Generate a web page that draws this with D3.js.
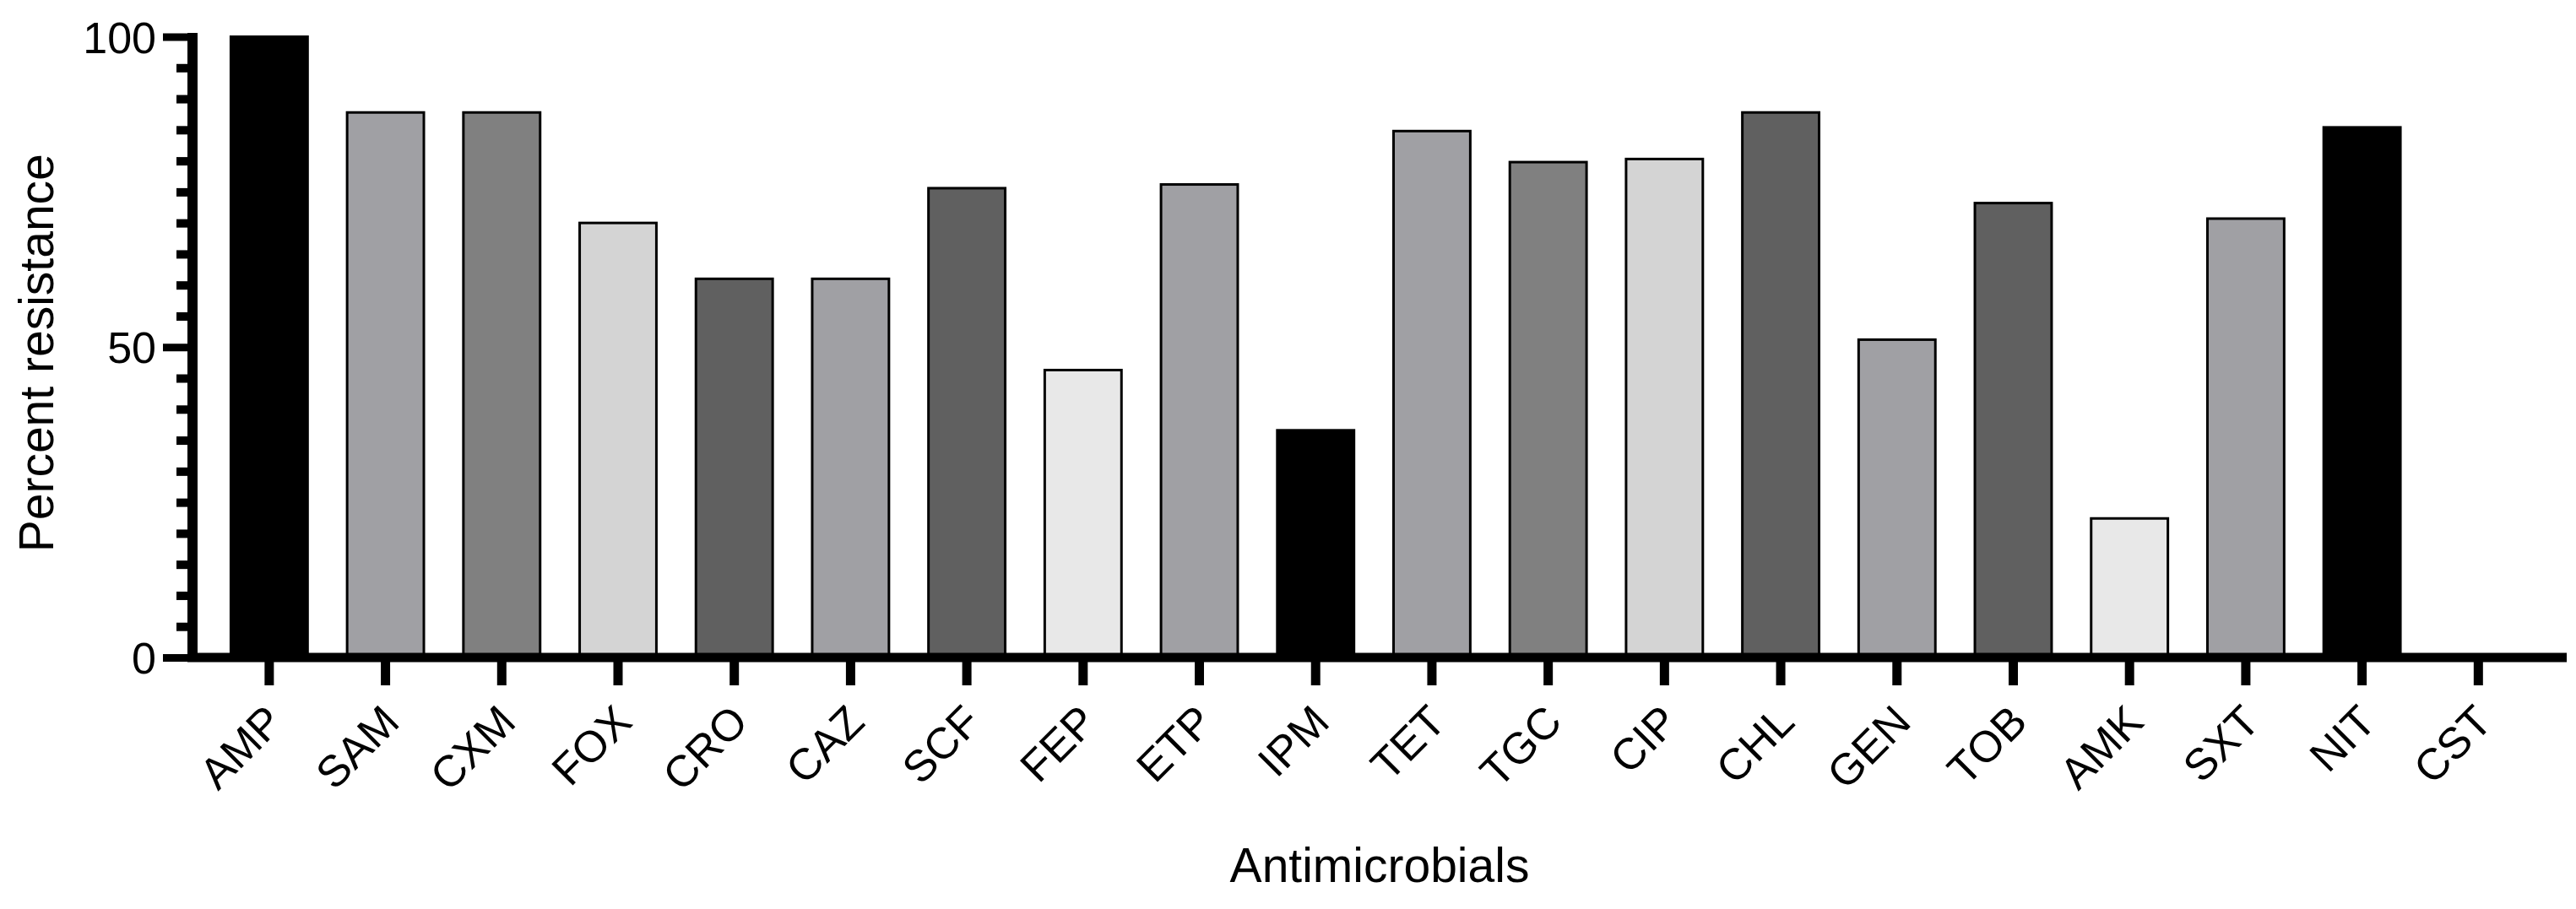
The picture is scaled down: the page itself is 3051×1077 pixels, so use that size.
<!DOCTYPE html>
<html>
<head>
<meta charset="utf-8">
<script src="https://cdn.jsdelivr.net/npm/d3@7"></script>
<style>
    body { margin: 0; background: #fff; }
    text { font-family: "Liberation Sans", Arial, sans-serif; fill: #000; }
</style>
</head>
<body>
<div id="chart"></div>
<script>
let width = 3051, height = 1077;
let plotLeft = 228, plotRight = 3040, plotTop = 43.5, plotBottom = 779;

let drugs = ['AMP', 'SAM', 'CXM', 'FOX', 'CRO', 'CAZ', 'SCF', 'FEP', 'ETP', 'IPM',
    'TET', 'TGC', 'CIP', 'CHL', 'GEN', 'TOB', 'AMK', 'SXT', 'NIT', 'CST'];
let resistance = [100, 87.8, 87.8, 70, 61, 61, 75.6, 46.3, 76.2, 36.6,
    84.8, 79.8, 80.3, 87.8, 51.2, 73.2, 22.4, 70.7, 85.4, 0];
let fills = ['#000000', '#a0a0a4', '#808080', '#d4d4d4', '#606060', '#a0a0a4', '#606060', '#e8e8e8', '#a0a0a4', '#000000',
    '#a0a0a4', '#808080', '#d4d4d4', '#606060', '#a0a0a4', '#606060', '#e8e8e8', '#a0a0a4', '#000000', '#ffffff'];
let majorTicks = [0, 50, 100];
let minorTicks = d3.range(5, 100, 5).filter(d => d % 50 !== 0);

let data = drugs.map((d, i) => ({name: d, value: resistance[i], fill: fills[i]}));

let svg = d3.select('#chart')
    .append('svg')
    .attr('width', width)
    .attr('height', height);

let x = d3.scaleBand()
    .domain(drugs)
    .range([plotLeft, plotRight])
    .paddingInner(0.34)
    .paddingOuter(0.38)
    .align(0.434);

let y = d3.scaleLinear()
    .domain([0, 100])
    .range([plotBottom, plotTop]);

// bars
svg.selectAll('.bar')
    .data(data.filter(d => d.value > 0))
    .enter()
    .append('rect')
    .attr('class', 'bar')
    .attr('x', d => x(d.name))
    .attr('y', d => y(d.value))
    .attr('width', x.bandwidth())
    .attr('height', d => y(0) - y(d.value))
    .attr('fill', d => d.fill)
    .attr('stroke', '#000')
    .attr('stroke-width', 3);

// y axis: minor ticks
svg.append('g')
    .attr('transform', `translate(${plotLeft},0)`)
    .call(d3.axisLeft(y).tickValues(minorTicks).tickSize(19).tickFormat(''))
    .call(g => g.select('.domain').remove())
    .call(g => g.selectAll('.tick line').attr('stroke', '#000').attr('stroke-width', 10));

// y axis: major ticks + labels
svg.append('g')
    .attr('transform', `translate(${plotLeft},0)`)
    .call(d3.axisLeft(y).tickValues(majorTicks).tickSize(35).tickPadding(8))
    .call(g => g.select('.domain').remove())
    .call(g => g.selectAll('.tick line').attr('stroke', '#000').attr('stroke-width', 9))
    .call(g => g.selectAll('.tick text').attr('font-size', 52).attr('dy', '0.36em'));

svg.append('line')
    .attr('x1', plotLeft)
    .attr('x2', plotLeft)
    .attr('y1', plotTop - 4.5)
    .attr('y2', plotBottom)
    .attr('stroke', '#000')
    .attr('stroke-width', 12);

// x axis
svg.append('g')
    .attr('transform', `translate(0,${plotBottom})`)
    .call(d3.axisBottom(x).tickSize(33).tickSizeOuter(0))
    .call(g => g.select('.domain').remove())
    .call(g => g.selectAll('.tick line').attr('stroke', '#000').attr('stroke-width', 11))
    .call(g => g.selectAll('.tick text')
        .attr('font-size', 52)
        .attr('x', 0)
        .attr('y', 0)
        .attr('dy', 0)
        .attr('text-anchor', 'end')
        .attr('transform', 'translate(19,79) rotate(-45)'));

svg.append('line')
    .attr('x1', plotLeft - 6)
    .attr('x2', plotRight)
    .attr('y1', plotBottom)
    .attr('y2', plotBottom)
    .attr('stroke', '#000')
    .attr('stroke-width', 11);

// axis titles
svg.append('text')
    .attr('transform', `translate(63,${(plotTop + plotBottom) / 2 + 7}) rotate(-90)`)
    .attr('text-anchor', 'middle')
    .attr('font-size', 57)
    .text('Percent resistance');

svg.append('text')
    .attr('x', (plotLeft + plotRight) / 2)
    .attr('y', 1045)
    .attr('text-anchor', 'middle')
    .attr('font-size', 57)
    .text('Antimicrobials');
</script>
</body>
</html>
